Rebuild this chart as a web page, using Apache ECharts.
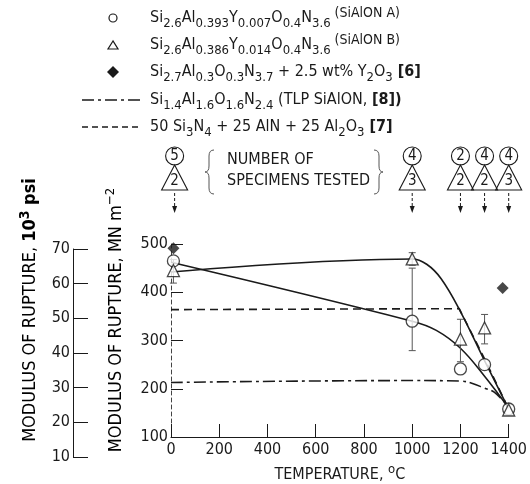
<!DOCTYPE html>
<html>
<head>
<meta charset="utf-8">
<script src="https://cdn.jsdelivr.net/npm/echarts@6/dist/echarts.min.js"></script>
<style>
html, body { margin: 0; padding: 0; background: #fff; }
#chart { width: 530px; height: 484px; }
</style>
</head>
<body>
<div id="chart"></div>
<script>
var FONT = '"DejaVu Sans Condensed", "Liberation Sans Narrow", sans-serif';
var INK = '#1a1a1a';

// axes
var tempTicks = [0, 200, 400, 600, 800, 1000, 1200, 1400];
var mpaTicks = [100, 200, 300, 400, 500];
var ksiTicks = [10, 20, 30, 40, 50, 60, 70];

// measured points  [temperature C, MN/m2]
var sialonA = [[10, 465], [1000, 340], [1200, 241], [1300, 250], [1400, 158]];
var sialonB = [[10, 445], [1000, 469], [1200, 303], [1300, 326], [1400, 156]];
var siAlY2O3 = [[10, 491], [1375, 409]];

// scatter bands  [temperature, low, high]
var errA = [[1000, 279, 450]];
var errB = [[10, 419, 468], [1000, 456, 482], [1200, 256, 344], [1300, 293, 354]];

// fitted curves
var curveA = [[0, 462], [1000, 340], [1100, 321], [1200, 284], [1300, 226], [1400, 160]];
var curveB = [[0, 442], [1000, 469], [1060, 458], [1120, 428], [1200, 360], [1300, 258], [1400, 158]];
var tlpCurve = [[0, 213], [1000, 217], [1200, 216], [1250, 211], [1300, 201], [1340, 193], [1400, 162]];
var mixCurve = [[0, 364], [1195, 366], [1300, 262], [1400, 158]];

// number of specimens tested (circle = SiAlON A, triangle = SiAlON B)
var countTemps = [15, 1000, 1200, 1300, 1400];
var countA = [5, 4, 2, 4, 4];
var countB = [2, 3, 2, 2, 3];

var chart = echarts.init(document.getElementById('chart'));

var richText = {
    n: { fontSize: 16, fontFamily: FONT, color: INK, lineHeight: 24, verticalAlign: 'middle' },
    s: { fontSize: 13, fontFamily: FONT, color: INK, lineHeight: 15, verticalAlign: 'bottom' },
    p: { fontSize: 12, fontFamily: FONT, color: INK, lineHeight: 14, verticalAlign: 'top' },
    sm: { fontSize: 14, fontFamily: FONT, color: INK, lineHeight: 22, verticalAlign: 'top' },
    b: { fontSize: 16, fontFamily: FONT, fontWeight: 'bold', color: INK, lineHeight: 24, verticalAlign: 'middle' },
    t: { fontSize: 18, fontFamily: FONT, color: INK, lineHeight: 24, verticalAlign: 'middle' },
    tb: { fontSize: 18, fontFamily: FONT, fontWeight: 'bold', color: INK, lineHeight: 24, verticalAlign: 'middle' },
    tp: { fontSize: 14, fontFamily: FONT, fontWeight: 'bold', color: INK, lineHeight: 14, verticalAlign: 'top' },
    tq: { fontSize: 13, fontFamily: FONT, color: INK, lineHeight: 14, verticalAlign: 'top' }
};

function errorBar(params, api) {
    var x = api.value(0);
    var lo = api.coord([x, api.value(1)]);
    var hi = api.coord([x, api.value(2)]);
    var w = 3.5;
    var st = { stroke: '#555', lineWidth: 1 };
    return {
        type: 'group',
        children: [
            { type: 'line', shape: { x1: lo[0], y1: lo[1], x2: hi[0], y2: hi[1] }, style: st },
            { type: 'line', shape: { x1: lo[0] - w, y1: lo[1], x2: lo[0] + w, y2: lo[1] }, style: st },
            { type: 'line', shape: { x1: hi[0] - w, y1: hi[1], x2: hi[0] + w, y2: hi[1] }, style: st }
        ]
    };
}

function curve(data, type, smooth) {
    return {
        type: 'line',
        data: data,
        smooth: smooth,
        showSymbol: false,
        silent: true,
        z: 2,
        lineStyle: { color: INK, width: 1.6, type: type }
    };
}

var option = {
    animation: false,
    backgroundColor: '#fff',
    grid: [
        { left: 171, right: 17, top: 244, bottom: 45 },
        { left: 73, top: 249, width: 20, height: 208 }
    ],
    xAxis: [{
        type: 'value',
        min: tempTicks[0],
        max: tempTicks[tempTicks.length - 1],
        interval: 200,
        name: '{n|TEMPERATURE, }{tq|o}{n|C}',
        nameLocation: 'middle',
        nameGap: 26,
        nameTextStyle: { fontSize: 16, fontFamily: FONT, color: INK, rich: richText },
        axisLine: { lineStyle: { color: INK, width: 1 } },
        axisTick: { inside: true, length: 13, lineStyle: { color: INK } },
        axisLabel: { fontSize: 16, fontFamily: FONT, color: INK, margin: 5, formatter: function (v) { return String(v); } },
        splitLine: { show: false }
    }, {
        gridIndex: 1, type: 'value', min: 0, max: 1, show: false
    }],
    yAxis: [{
        type: 'value',
        min: mpaTicks[0],
        max: mpaTicks[mpaTicks.length - 1],
        interval: 100,
        axisLine: { show: true, lineStyle: { color: '#444', width: 1, type: [4, 3] } },
        axisTick: { inside: true, length: 12, lineStyle: { color: INK } },
        axisLabel: { fontSize: 16, fontFamily: FONT, color: INK, margin: 3 },
        splitLine: { show: false }
    }, {
        gridIndex: 1,
        type: 'value',
        min: ksiTicks[0],
        max: ksiTicks[ksiTicks.length - 1],
        interval: 10,
        axisLine: { show: true, lineStyle: { color: INK, width: 1 } },
        axisTick: { inside: true, length: 15, lineStyle: { color: INK } },
        axisLabel: { fontSize: 16, fontFamily: FONT, color: INK, margin: 3 },
        splitLine: { show: false }
    }],
    series: [
        curve(curveA, 'solid', 0.4),
        curve(curveB, 'solid', 0.4),
        curve(tlpCurve, [12, 4, 3, 4], 0.4),
        curve(mixCurve, [8, 5], false),
        {
            type: 'custom',
            renderItem: errorBar,
            data: errA.concat(errB),
            encode: { x: 0, y: [1, 2] },
            z: 3,
            silent: true
        },
        {
            type: 'scatter',
            data: sialonA,
            symbol: 'circle',
            symbolSize: 12,
            z: 5,
            itemStyle: { color: '#fff', borderColor: INK, borderWidth: 1.3 }
        },
        {
            type: 'scatter',
            data: sialonB,
            symbol: 'triangle',
            symbolSize: 12,
            z: 6,
            itemStyle: { color: '#fff', borderColor: INK, borderWidth: 1.3 }
        },
        {
            type: 'scatter',
            data: siAlY2O3,
            symbol: 'diamond',
            symbolSize: 12,
            z: 6,
            itemStyle: { color: INK }
        }
    ]
};

chart.setOption(option);

// ------------------------------
// legend, axis titles, specimen counts
// ------------------------------
var g = [];

function legendText(y, text) {
    g.push({ type: 'text', x: 150, y: y, style: { text: text, rich: richText, verticalAlign: 'middle', fill: INK } });
}

g.push({ type: 'circle', shape: { cx: 113, cy: 18, r: 4 }, style: { fill: '#fff', stroke: INK, lineWidth: 1.2 } });
g.push({ type: 'polygon', shape: { points: [[113, 41], [108, 49], [118, 49]] }, style: { fill: '#fff', stroke: INK, lineWidth: 1.2 } });
g.push({ type: 'polygon', shape: { points: [[113, 66], [119, 72], [113, 78], [107, 72]] }, style: { fill: INK } });
g.push({ type: 'line', shape: { x1: 82, y1: 100, x2: 141, y2: 100 }, style: { stroke: INK, lineWidth: 1.4, lineDash: [12, 4, 3, 4] } });
g.push({ type: 'line', shape: { x1: 82, y1: 127, x2: 141, y2: 127 }, style: { stroke: INK, lineWidth: 1.4, lineDash: [6, 4] } });

legendText(18, '{n|Si}{s|2.6}{n|Al}{s|0.393}{n|Y}{s|0.007}{n|O}{s|0.4}{n|N}{s|3.6}{sm| (SiAlON A)}');
legendText(45, '{n|Si}{s|2.6}{n|Al}{s|0.386}{n|Y}{s|0.014}{n|O}{s|0.4}{n|N}{s|3.6}{sm| (SiAlON B)}');
legendText(72, '{n|Si}{s|2.7}{n|Al}{s|0.3}{n|O}{s|0.3}{n|N}{s|3.7}{n| + 2.5 wt% Y}{s|2}{n|O}{s|3}{b| [6]}');
legendText(100, '{n|Si}{s|1.4}{n|Al}{s|1.6}{n|O}{s|1.6}{n|N}{s|2.4}{n| (TLP SiAlON, }{b|[8])}');
legendText(127, '{n|50 Si}{s|3}{n|N}{s|4}{n| + 25 AlN + 25 Al}{s|2}{n|O}{s|3}{b| [7]}');

// rotated axis titles
g.push({
    type: 'text', x: 30, y: 310, rotation: Math.PI / 2,
    style: { text: '{t|MODULUS OF RUPTURE, }{tb|10}{tp|3}{tb| psi}', rich: richText, align: 'center', verticalAlign: 'middle' }
});
g.push({
    type: 'text', x: 116, y: 320, rotation: Math.PI / 2,
    style: { text: '{t|MODULUS OF RUPTURE, MN m}{tq|\u22122}', rich: richText, align: 'center', verticalAlign: 'middle' }
});

// specimen count markers
countTemps.forEach(function (t, i) {
    var px = chart.convertToPixel({ xAxisIndex: 0 }, t);
    g.push({ type: 'circle', shape: { cx: px, cy: 156, r: 9 }, style: { fill: '#fff', stroke: INK, lineWidth: 1.1 } });
    g.push({ type: 'text', x: px, y: 156, style: { text: String(countA[i]), font: '15px ' + FONT, fill: INK, align: 'center', verticalAlign: 'middle' } });
    g.push({ type: 'polygon', shape: { points: [[px, 165], [px - 13, 190], [px + 13, 190]] }, style: { fill: 'none', stroke: INK, lineWidth: 1.1 } });
    g.push({ type: 'text', x: px, y: 181, style: { text: String(countB[i]), font: '15px ' + FONT, fill: INK, align: 'center', verticalAlign: 'middle' } });
    g.push({ type: 'line', shape: { x1: px, y1: 193, x2: px, y2: 208 }, style: { stroke: INK, lineWidth: 1, lineDash: [3, 2] } });
    g.push({ type: 'polygon', shape: { points: [[px - 2.5, 206], [px + 2.5, 206], [px, 213]] }, style: { fill: INK } });
});

// braces round the caption
function brace(x, dir) {
    var st = { stroke: '#555', lineWidth: 1, fill: 'none' };
    var x0 = x + 5 * dir, xm = x - 4 * dir;
    g.push({ type: 'bezierCurve', shape: { x1: x0, y1: 150, x2: x, y2: 156, cpx1: x, cpy1: 150 }, style: st });
    g.push({ type: 'line', shape: { x1: x, y1: 156, x2: x, y2: 166 }, style: st });
    g.push({ type: 'bezierCurve', shape: { x1: x, y1: 166, x2: xm, y2: 172, cpx1: x, cpy1: 172 }, style: st });
    g.push({ type: 'bezierCurve', shape: { x1: xm, y1: 172, x2: x, y2: 178, cpx1: x, cpy1: 172 }, style: st });
    g.push({ type: 'line', shape: { x1: x, y1: 178, x2: x, y2: 188 }, style: st });
    g.push({ type: 'bezierCurve', shape: { x1: x, y1: 188, x2: x0, y2: 194, cpx1: x, cpy1: 194 }, style: st });
}
brace(209, 1);
brace(379, -1);
g.push({ type: 'text', x: 227, y: 160, style: { text: 'NUMBER OF', font: '16px ' + FONT, fill: INK, verticalAlign: 'middle' } });
g.push({ type: 'text', x: 227, y: 181, style: { text: 'SPECIMENS TESTED', font: '16px ' + FONT, fill: INK, verticalAlign: 'middle' } });

chart.setOption({ graphic: g });
</script>
</body>
</html>
